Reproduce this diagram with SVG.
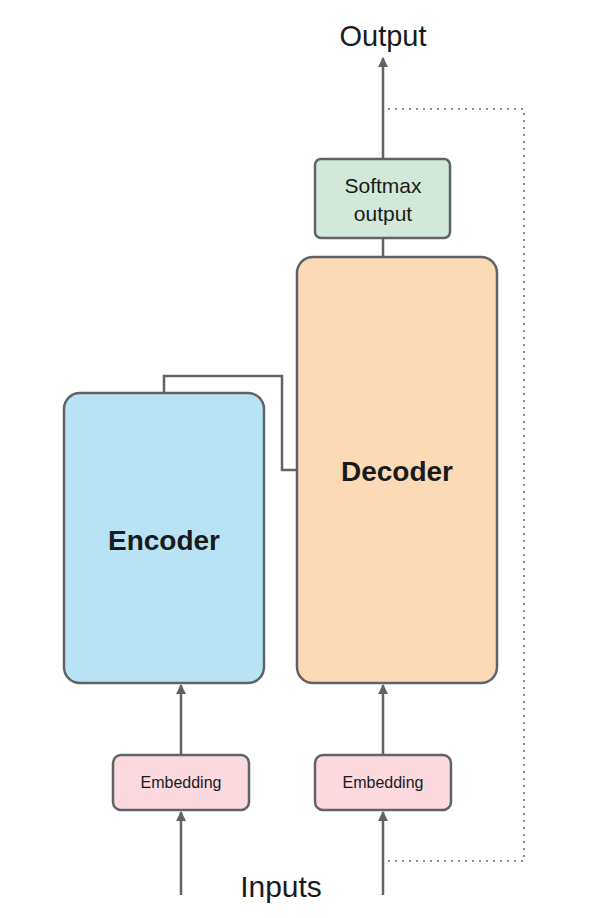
<svg xmlns="http://www.w3.org/2000/svg" width="600" height="918" viewBox="0 0 600 918">
<defs>
<marker id="ah" viewBox="0 0 10 10" refX="9" refY="5" markerWidth="4.4" markerHeight="4" orient="auto" markerUnits="strokeWidth">
<path d="M0,0 L10,5 L0,10 z" fill="#5f6368"/>
</marker>
<style>
.box{stroke:#5f6368;stroke-width:2.5}
.ln{stroke:#5f6368;stroke-width:2.5;fill:none}
.dot{stroke:#8a8a8a;stroke-width:2;fill:none;stroke-dasharray:2 5}
.t{font-family:"Liberation Sans",Arial,sans-serif;fill:#1a1a1a;text-anchor:middle}
</style>
</defs>
<rect width="600" height="918" fill="#fff"/>
<g id="connectors">
<path class="dot" d="M388,109 H524 V861 H385"/>
<path class="ln" d="M383,159 V58" marker-end="url(#ah)"/>
<path class="ln" d="M383,238 V257"/>
<path class="ln" d="M164,393 V376 H282 V470 H297"/>
<path class="ln" d="M181,755 V685" marker-end="url(#ah)"/>
<path class="ln" d="M181,895 V812" marker-end="url(#ah)"/>
<path class="ln" d="M383,755 V685" marker-end="url(#ah)"/>
<path class="ln" d="M383,895 V812" marker-end="url(#ah)"/>
</g>
<g id="output-label"><text class="t" x="383" y="46" font-size="29">Output</text></g>
<g id="inputs-label"><text class="t" x="281" y="897" font-size="30">Inputs</text></g>
<g id="softmax">
<rect class="box" x="315" y="159" width="135" height="79" rx="6" fill="#d2e9da"/>
<text class="t" x="383" y="193" font-size="21">Softmax</text>
<text class="t" x="383" y="221" font-size="21">output</text>
</g>
<g id="decoder">
<rect class="box" x="297" y="257" width="200" height="426" rx="16" fill="#fddab6"/>
<text class="t" x="397" y="481" font-size="28" font-weight="bold">Decoder</text>
</g>
<g id="encoder">
<rect class="box" x="64" y="393" width="200" height="290" rx="16" fill="#b7e3f4"/>
<text class="t" x="164" y="550" font-size="28" font-weight="bold">Encoder</text>
</g>
<g id="embedding-enc">
<rect class="box" x="113" y="755" width="136" height="55" rx="8" fill="#fbd9de"/>
<text class="t" x="181" y="788" font-size="16">Embedding</text>
</g>
<g id="embedding-dec">
<rect class="box" x="315" y="755" width="136" height="55" rx="8" fill="#fbd9de"/>
<text class="t" x="383" y="788" font-size="16">Embedding</text>
</g>
</svg>
